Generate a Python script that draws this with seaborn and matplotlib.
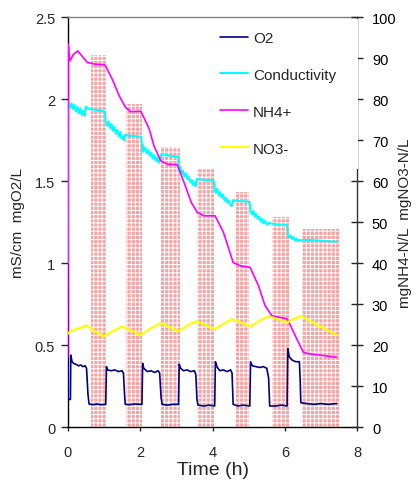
import numpy as np
import pandas as pd
import matplotlib
matplotlib.use("Agg")
import matplotlib.pyplot as plt
from matplotlib.patches import Rectangle
import seaborn as sns

# anoxic phases (pink bars), hours and left-axis height
bar_start = [0.63, 1.60, 2.59, 3.58, 4.61, 5.63, 6.48]
bar_end = [1.05, 2.06, 3.09, 4.04, 5.02, 6.10, 7.50]
bar_top = [2.27, 1.97, 1.71, 1.575, 1.435, 1.283, 1.21]

# dissolved oxygen, mg/L (left axis)
o2_t = [0.0, 0.005, 0.075, 0.085, 0.12, 0.16, 0.22, 0.30, 0.36, 0.42, 0.48, 0.52, 0.56, 0.59, 0.70, 0.80, 0.92, 1.05,
        1.07, 1.10, 1.20, 1.30, 1.40, 1.50, 1.54, 1.57, 1.59, 1.70, 1.85, 2.05,
        2.07, 2.10, 2.20, 2.30, 2.40, 2.50, 2.54, 2.58, 2.61, 2.75, 2.90, 3.06,
        3.08, 3.12, 3.20, 3.30, 3.40, 3.50, 3.54, 3.57, 3.60, 3.75, 3.90, 4.06,
        4.08, 4.12, 4.20, 4.30, 4.40, 4.50, 4.54, 4.57, 4.70, 4.85, 5.03,
        5.05, 5.10, 5.20, 5.30, 5.40, 5.50, 5.55, 5.58, 5.75, 5.90, 6.06,
        6.08, 6.12, 6.20, 6.30, 6.40, 6.42, 6.44, 6.60, 6.80, 7.00, 7.20, 7.43]
o2_v = [2.14, 0.17, 0.17, 0.44, 0.40, 0.39, 0.385, 0.375, 0.38, 0.37, 0.375, 0.36, 0.20, 0.142, 0.138, 0.142, 0.138, 0.14,
        0.37, 0.35, 0.345, 0.35, 0.34, 0.345, 0.33, 0.20, 0.14, 0.138, 0.142, 0.14,
        0.39, 0.36, 0.34, 0.345, 0.335, 0.345, 0.33, 0.18, 0.14, 0.135, 0.14, 0.14,
        0.385, 0.36, 0.345, 0.35, 0.34, 0.345, 0.32, 0.17, 0.135, 0.13, 0.135, 0.13,
        0.40, 0.37, 0.345, 0.35, 0.34, 0.35, 0.33, 0.14, 0.13, 0.135, 0.13,
        0.40, 0.375, 0.37, 0.365, 0.37, 0.36, 0.30, 0.13, 0.13, 0.135, 0.13,
        0.48, 0.43, 0.41, 0.40, 0.40, 0.30, 0.15, 0.145, 0.14, 0.145, 0.14, 0.145]

# conductivity, mS/cm (left axis)
cond_t = [0.0, 0.01, 0.03, 0.07, 0.11, 0.15, 0.19, 0.23, 0.27, 0.31, 0.35, 0.39, 0.43, 0.47,
          0.50, 0.55, 0.63, 0.80, 1.03,
          1.05, 1.09, 1.13, 1.17, 1.21, 1.25, 1.29, 1.33, 1.37, 1.41, 1.45, 1.49, 1.53, 1.56,
          1.59, 1.70, 1.85, 2.03,
          2.06, 2.08, 2.11, 2.15, 2.19, 2.23, 2.27, 2.31, 2.35, 2.39, 2.43, 2.47, 2.51, 2.55,
          2.59, 2.70, 2.85, 3.05,
          3.08, 3.10, 3.14, 3.18, 3.22, 3.26, 3.30, 3.34, 3.38, 3.42, 3.46, 3.50, 3.53,
          3.57, 3.70, 3.85, 4.03,
          4.06, 4.09, 4.13, 4.17, 4.21, 4.25, 4.29, 4.33, 4.37, 4.41, 4.45, 4.49, 4.53,
          4.57, 4.70, 4.85, 5.02,
          5.05, 5.09, 5.13, 5.17, 5.21, 5.25, 5.29, 5.33, 5.37, 5.41, 5.45, 5.49, 5.53,
          5.56, 5.70, 5.85, 6.06,
          6.08, 6.12, 6.16, 6.20, 6.24, 6.28, 6.32, 6.36, 6.40, 6.43,
          6.47, 6.70, 6.85, 7.10, 7.43]
cond_v = [1.00, 1.97, 1.985, 1.950, 1.975, 1.940, 1.965, 1.925, 1.955, 1.915, 1.945, 1.905, 1.930, 1.900,
          1.955, 1.945, 1.940, 1.935, 1.925,
          1.860, 1.840, 1.865, 1.825, 1.850, 1.810, 1.830, 1.790, 1.815, 1.775, 1.800, 1.760, 1.775, 1.750,
          1.785, 1.778, 1.776, 1.772,
          1.680, 1.720, 1.690, 1.705, 1.670, 1.690, 1.655, 1.675, 1.640, 1.660, 1.625, 1.645, 1.612, 1.630,
          1.668, 1.660, 1.655, 1.650,
          1.560, 1.590, 1.545, 1.565, 1.530, 1.550, 1.515, 1.530, 1.495, 1.510, 1.480, 1.495, 1.470,
          1.515, 1.510, 1.508, 1.505,
          1.450, 1.430, 1.455, 1.415, 1.435, 1.400, 1.420, 1.385, 1.400, 1.370, 1.385, 1.355, 1.350,
          1.386, 1.380, 1.378, 1.375,
          1.315, 1.300, 1.320, 1.285, 1.300, 1.270, 1.285, 1.255, 1.270, 1.245, 1.260, 1.240, 1.240,
          1.246, 1.240, 1.236, 1.234,
          1.168, 1.155, 1.170, 1.148, 1.160, 1.140, 1.152, 1.135, 1.145, 1.138,
          1.142, 1.142, 1.140, 1.136, 1.132]

# ammonium, mgNH4-N/L (right axis)
nh4_t = [0.0, 0.01, 0.06, 0.16, 0.28, 0.40, 0.54, 0.73, 1.03, 1.23, 1.42, 1.60, 1.74, 2.02, 2.25, 2.38,
         2.57, 2.75, 3.03, 3.21, 3.41, 3.58, 3.77, 4.07, 4.30, 4.57, 4.76, 5.04, 5.27, 5.45, 5.64,
         6.07, 6.33, 6.51, 6.69, 7.06, 7.43]
nh4_v = [17.2, 93.5, 89.4, 91.0, 91.8, 90.5, 89.0, 88.6, 88.4, 84.9, 80.9, 78.0, 77.0, 77.1, 72.8, 68.7,
         65.0, 64.2, 64.0, 59.8, 54.9, 52.4, 51.6, 51.6, 47.6, 40.2, 39.4, 39.0, 34.5, 29.7, 27.2,
         26.4, 21.5, 18.3, 17.9, 17.5, 17.1]

# nitrate, mgNO3-N/L (right axis)
no3_t = [0.0, 0.10, 0.25, 0.40, 0.52, 0.75, 1.00, 1.25, 1.51, 1.75, 2.01, 2.30, 2.57, 2.80, 3.06, 3.30,
         3.54, 3.80, 4.05, 4.30, 4.53, 4.80, 5.05, 5.30, 5.54, 5.80, 6.07, 6.25, 6.45, 6.90, 7.43]
no3_v = [22.8, 23.6, 24.0, 24.4, 24.9, 23.4, 22.2, 23.5, 24.6, 23.6, 22.5, 24.2, 25.4, 24.5, 23.4, 24.8,
         25.9, 25.0, 23.9, 25.2, 26.4, 25.5, 24.6, 26.0, 27.1, 26.4, 25.6, 26.5, 27.1, 25.0, 22.5]

sns.set_style("white")
plt.rcParams["font.family"] = ["Liberation Sans", "DejaVu Sans"]
plt.rcParams["hatch.linewidth"] = 0.7

fig = plt.figure(figsize=(4.18, 4.89), dpi=100)
ax = fig.add_axes([0.162, 0.1241, 0.6928, 0.8384])
ax2 = ax.twinx()

widths = [e - s for s, e in zip(bar_start, bar_end)]
ax.bar(bar_start, bar_top, width=widths, align="edge", color="#f7a3a3",
       edgecolor="white", hatch="++++", linewidth=0, zorder=1)

sns.lineplot(x=o2_t, y=o2_v, ax=ax, color="#000080", lw=1.2, sort=False,
             estimator=None, label="O2", legend=False, zorder=3)
sns.lineplot(x=cond_t, y=cond_v, ax=ax, color="#00ffff", lw=1.5, sort=False,
             estimator=None, label="Conductivity", legend=False, zorder=3)
sns.lineplot(x=nh4_t, y=nh4_v, ax=ax2, color="#ff00ff", lw=1.2, sort=False,
             estimator=None, label="NH4+", legend=False)
sns.lineplot(x=no3_t, y=no3_v, ax=ax2, color="#ffff00", lw=1.6, sort=False,
             estimator=None, label="NO3-", legend=False)

ax.set_xlim(0, 8)
ax.set_ylim(0, 2.5)
ax2.set_ylim(0, 100)
ax.set_xticks([0, 2, 4, 6, 8])
ax.set_yticks([0, 0.5, 1, 1.5, 2, 2.5])
ax.set_yticklabels(["0", "0.5", "1", "1.5", "2", "2.5"])
ax2.set_yticks(range(0, 101, 10))

for s in ["left", "bottom"]:
    ax.spines[s].set_color("black")
    ax.spines[s].set_linewidth(1.0)
ax.spines["top"].set_color("#808080")
ax.spines["top"].set_linewidth(1.0)
ax.spines["right"].set_visible(False)
for s in ["left", "bottom", "top"]:
    ax2.spines[s].set_visible(False)
ax2.spines["right"].set_color("#333333")
ax2.spines["right"].set_linewidth(1.0)

ax.tick_params(axis="x", direction="out", length=3, width=1, pad=10, labelsize=10.5, bottom=True)
ax.tick_params(axis="y", direction="out", length=5, width=1, pad=4, labelsize=10.5, left=True)
ax2.tick_params(axis="y", direction="inout", length=9, width=1, pad=6, labelsize=10.5,
                right=True, colors="#222222", labelcolor="black")

ax.set_xlabel("Time (h)", fontsize=14)
ax.xaxis.set_label_coords(0.5, -0.1017)
ax.xaxis.label.set_va("center")
ax.set_ylabel("mS/cm  mgO2/L", fontsize=11)
ax.yaxis.set_label_coords(-0.1716, 0.5)
ax.yaxis.label.set_va("center")
ax2.set_ylabel("mgNH4-N/L  mgNO3-N/L", fontsize=11)
ax2.yaxis.set_label_coords(1.1647, 0.5)
ax2.yaxis.label.set_va("center")

# white legend box covers the top of the secondary axis
ax2.add_patch(Rectangle((0.512, 0.63), 0.49, 0.367, transform=ax2.transAxes,
                        facecolor="white", edgecolor="none", zorder=3, clip_on=False))
h1, l1 = ax.get_legend_handles_labels()
h2, l2 = ax2.get_legend_handles_labels()
leg = ax2.legend(h1 + h2, l1 + l2, loc="upper left", bbox_to_anchor=(0.526, 0.967),
                 frameon=False, fontsize=11, handlelength=1.85, handletextpad=0.3,
                 labelspacing=1.5, borderpad=0, borderaxespad=0)
leg.set_zorder(4)

fig.savefig("out.png", dpi=100)
